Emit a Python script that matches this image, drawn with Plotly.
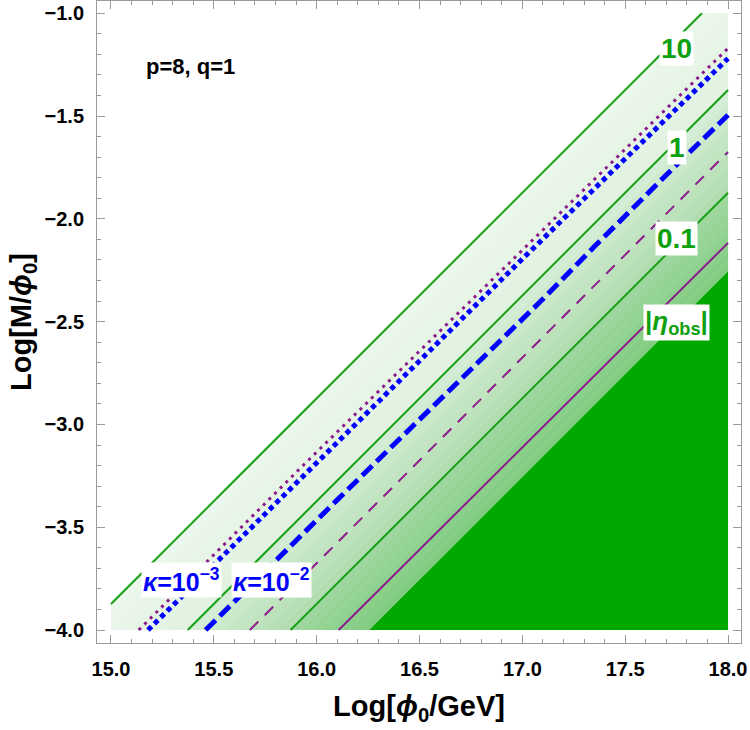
import plotly.graph_objects as go

# ---------------- data ----------------
# Contours are straight lines  Log[M/phi0] = Log[phi0/GeV] - c ; c values below
contour_labels = ["10", "1", "0.1"]
contour_c = [18.873, 19.373, 19.873]          # green solid contour lines
dark_region_c = 20.255                         # boundary of the dark-green region

# kappa = 1e-3 curves (dotted)
purple_dot_x = [15.135, 15.92, 18.0]
purple_dot_y = [-4.0, -3.213, -1.17]
blue_dot_x = [15.18, 16.0, 17.0, 18.0]
blue_dot_y = [-4.0, -3.185, -2.195, -1.22]

# kappa = 1e-2 curves (dashed)
blue_dash_x = [15.46, 16.10, 17.09, 17.35, 17.75, 18.0]
blue_dash_y = [-4.0, -3.367, -2.40, -2.135, -1.737, -1.495]
purple_dash_x = [15.675, 18.0]
purple_dash_y = [-4.0, -1.675]

# |eta_obs| curve (solid purple)
eta_x = [16.107, 16.89, 17.23, 18.0]
eta_y = [-4.0, -3.221, -2.882, -2.117]

# data domain
x_min, x_max = 15.0, 18.0
y_min, y_max = -4.0, -1.0

# ---------------- helpers ----------------
def clip(poly, f):
    out = []
    n = len(poly)
    for i in range(n):
        a, b = poly[i], poly[(i + 1) % n]
        fa, fb = f(a), f(b)
        if fa >= 0:
            out.append(a)
        if (fa >= 0) != (fb >= 0):
            t = fa / (fa - fb)
            out.append((a[0] + t * (b[0] - a[0]), a[1] + t * (b[1] - a[1])))
    return out

def band(c_lo, c_hi):
    box = [(x_min, y_min), (x_max, y_min), (x_max, y_max), (x_min, y_max)]
    p = clip(box, lambda q: (q[0] - q[1]) - c_lo)
    if c_hi is not None:
        p = clip(p, lambda q: c_hi - (q[0] - q[1]))
    return p

def mix(c1, c2, t):
    a = [int(c1[i:i + 2], 16) for i in (1, 3, 5)]
    b = [int(c2[i:i + 2], 16) for i in (1, 3, 5)]
    return "rgb(%d,%d,%d)" % tuple(round(a[k] + t * (b[k] - a[k])) for k in range(3))

def line_seg(c):
    xs = [max(x_min, y_min + c), min(x_max, y_max + c)]
    return xs, [x - c for x in xs]

fig = go.Figure()

# ---------------- filled bands ----------------
band_specs = [
    (contour_c[0], contour_c[1], "#ecf7ec", "#e0f2e0"),
    (contour_c[1], contour_c[2], "#d6eed6", "#b0dcb0"),
    (contour_c[2], dark_region_c, "#a0d8a0", "#80cc80"),
]
nstripe = 8
for c_lo, c_hi, col_a, col_b in band_specs:
    for k in range(nstripe):
        lo = c_lo + (c_hi - c_lo) * k / nstripe
        hi = c_lo + (c_hi - c_lo) * (k + 1) / nstripe + (0.002 if k < nstripe - 1 else 0)
        p = band(lo, hi)
        if len(p) < 3:
            continue
        col = mix(col_a, col_b, (k + 0.5) / nstripe)
        fig.add_trace(go.Scatter(x=[q[0] for q in p] + [p[0][0]], y=[q[1] for q in p] + [p[0][1]],
                                 mode="lines", fill="toself", fillcolor=col,
                                 line=dict(width=0, color=col), hoverinfo="skip", showlegend=False))
p = band(dark_region_c, None)
fig.add_trace(go.Scatter(x=[q[0] for q in p] + [p[0][0]], y=[q[1] for q in p] + [p[0][1]],
                         mode="lines", fill="toself", fillcolor="#00a800",
                         line=dict(width=0, color="#00a800"), hoverinfo="skip", showlegend=False))

# ---------------- lines ----------------
for c in contour_c:
    xs, ys = line_seg(c)
    fig.add_trace(go.Scatter(x=xs, y=ys, mode="lines", line=dict(color="#16a016", width=2),
                             hoverinfo="skip", showlegend=False))

fig.add_trace(go.Scatter(x=purple_dot_x, y=purple_dot_y, mode="lines",
                         line=dict(color="#8b1a8b", width=3, dash="3px,5px"), showlegend=False))
fig.add_trace(go.Scatter(x=blue_dot_x, y=blue_dot_y, mode="lines",
                         line=dict(color="#0000ff", width=5, dash="5px,4px"), showlegend=False))
fig.add_trace(go.Scatter(x=purple_dash_x, y=purple_dash_y, mode="lines",
                         line=dict(color="#8b1a8b", width=2, dash="12px,9px"), showlegend=False))
fig.add_trace(go.Scatter(x=blue_dash_x, y=blue_dash_y, mode="lines",
                         line=dict(color="#0000ff", width=5, dash="14px,6px"), showlegend=False))
fig.add_trace(go.Scatter(x=eta_x, y=eta_y, mode="lines",
                         line=dict(color="#8b1a8b", width=2), showlegend=False))

# ---------------- labels ----------------
FONT = "Liberation Sans, Arial, sans-serif"
green_txt = "#0ea00e"
labels = [
    ("<b>10</b>", 17.75, -1.171, green_txt, 28),
    ("<b>1</b>", 17.75, -1.655, green_txt, 28),
    ("<b>0.1</b>", 17.75, -2.096, green_txt, 28),
    ("<b>|<i>η</i><sub>obs</sub>|</b>", 17.748, -2.502, green_txt, 26),
    ("<b><i>κ</i>=10<sup>−3</sup></b>", 15.342, -3.758, "#0000ff", 25),
    ("<b><i>κ</i>=10<sup>−2</sup></b>", 15.779, -3.758, "#0000ff", 25),
]
for txt, x, y, col, sz in labels:
    fig.add_annotation(x=x, y=y, text=txt, showarrow=False, bgcolor="white", borderpad=1,
                       font=dict(family=FONT, size=sz, color=col), xanchor="center", yanchor="middle")
fig.add_annotation(x=15.385, y=-1.26, text="<b>p=8, q=1</b>", showarrow=False,
                   font=dict(family=FONT, size=22, color="black"))

axis_common = dict(
    showline=True, linecolor="#9a9a9a", linewidth=1, mirror="ticks",
    ticks="inside", ticklen=8, tickcolor="#9a9a9a", tickwidth=1,
    showgrid=False, zeroline=False,
    tickfont=dict(family=FONT, size=20, color="black", weight="bold"),
    tickformat=".1f", ticklabelstandoff=8,
    minor=dict(ticks="inside", ticklen=4, tickcolor="#9a9a9a", dtick=0.1, showgrid=False),
)
fig.update_xaxes(range=[14.932, 18.063], dtick=0.5, tick0=15,
                 title=dict(text="<b>Log[<i>ϕ</i><sub>0</sub>/GeV]</b>", standoff=16,
                            font=dict(family=FONT, size=29, color="black")),
                 **axis_common)
fig.update_yaxes(range=[-4.063, -0.9405], dtick=0.5, tick0=-4,
                 title=dict(text="<b>Log[M/<i>ϕ</i><sub>0</sub>]</b>", standoff=4,
                            font=dict(family=FONT, size=29, color="black")),
                 **axis_common)

fig.update_layout(width=750, height=730, margin=dict(l=97, r=9, t=1, b=87),
                  plot_bgcolor="white", paper_bgcolor="white", showlegend=False)

fig.write_html("out.html")
